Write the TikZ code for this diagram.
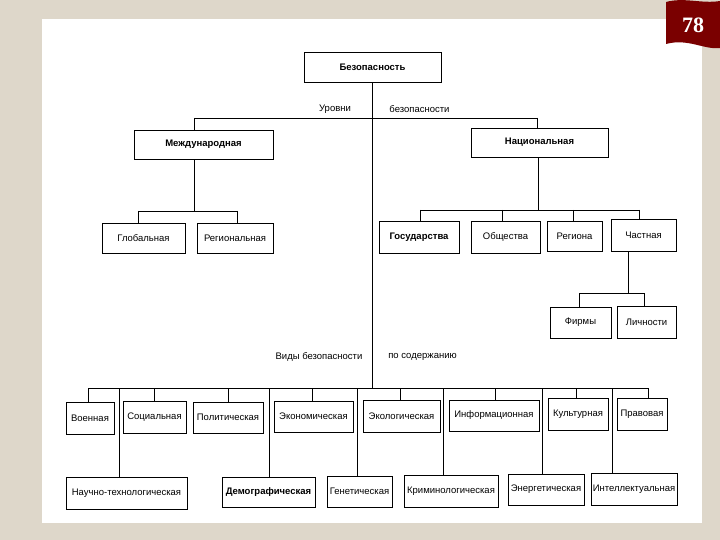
\documentclass[tikz,border=0pt]{standalone}
\usepackage{fontspec}
\setmainfont{Liberation Sans}
\newfontfamily\numfont{Liberation Serif}
\usetikzlibrary{shapes}
\definecolor{paper}{RGB}{222,215,202}
\definecolor{flagred}{RGB}{122,0,0}

\begin{document}
\begin{tikzpicture}[x=1pt,y=-1pt,
  box/.style={draw,rectangle,line width=0.7pt,inner sep=1pt,font=\fontsize{9.5}{11}\selectfont},
  lab/.style={inner sep=0pt,font=\fontsize{9.5}{11}\selectfont},
  link/.style={line width=0.8pt}]
\useasboundingbox (0,0) rectangle (720,540);
\fill[paper] (0,0) rectangle (720,540);
\fill[white] (42,19) rectangle (702,523);
\fill[flagred] (666,2) .. controls (684,-3) and (702,4) .. (720,1) -- (720,48) .. controls (704,50) and (688,38) .. (666,44) -- cycle;
\node[text=white,font=\numfont\bfseries\fontsize{22}{22}\selectfont] (num)at(693,25){78};

% levels
\node[box,minimum width=137pt,minimum height=30pt,font=\fontsize{9.5}{11}\selectfont\bfseries] (bez)at(372.5,67.5){Безопасность};
\node[box,minimum width=139pt,minimum height=29pt,font=\fontsize{9.5}{11}\selectfont\bfseries] (mezh)at(203.5,144.5){Международная};
\node[box,minimum width=137pt,minimum height=29pt,font=\fontsize{9.5}{11}\selectfont\bfseries] (natl)at(539.5,142.5){Национальная};
\node[box,minimum width=83pt,minimum height=30pt] (glob)at(143.5,238){Глобальная};
\node[box,minimum width=76pt,minimum height=30pt] (regn)at(235,238){Региональная};
\node[box,minimum width=80pt,minimum height=32pt,font=\fontsize{9.5}{11}\selectfont\bfseries] (gos)at(419,237){Государства};
\node[box,minimum width=69pt,minimum height=32pt] (obsh)at(505.5,237){Общества};
\node[box,minimum width=55pt,minimum height=30pt] (regi)at(574.5,236){Региона};
\node[box,minimum width=65pt,minimum height=32pt] (chast)at(643.5,235){Частная};
\node[box,minimum width=61pt,minimum height=31pt] (firm)at(580.5,322.5){Фирмы};
\node[box,minimum width=59pt,minimum height=32pt] (lich)at(646.5,322){Личности};

\node[lab] (urov)at(335,109){Уровни};
\node[lab] (urov2)at(419.5,109){безопасности};
\node[lab] (vid)at(319,357){Виды безопасности};
\node[lab] (vid2)at(422.5,357){по содержанию};

% kinds
\node[box,minimum width=48pt,minimum height=32pt] (voen)at(90,418){Военная};
\node[box,minimum width=63pt,minimum height=32pt] (soc)at(154.5,417){Социальная};
\node[box,minimum width=70pt,minimum height=31pt] (pol)at(228,417.5){Политическая};
\node[box,minimum width=79pt,minimum height=31pt] (econ)at(313.5,416.5){Экономическая};
\node[box,minimum width=77pt,minimum height=32pt] (ecol)at(401.5,416){Экологическая};
\node[box,minimum width=90pt,minimum height=31pt] (inf)at(494,415.5){Информационная};
\node[box,minimum width=60pt,minimum height=32pt] (cult)at(578,414){Культурная};
\node[box,minimum width=50pt,minimum height=32pt] (prav)at(642,414){Правовая};
\node[box,minimum width=121pt,minimum height=32pt] (nauch)at(126.5,493){Научно-технологическая};
\node[box,minimum width=93pt,minimum height=30pt,font=\fontsize{9.5}{11}\selectfont\bfseries] (demo)at(268.5,492){Демографическая};
\node[box,minimum width=65pt,minimum height=31pt] (gen)at(359.5,491.5){Генетическая};
\node[box,minimum width=94pt,minimum height=32pt] (krim)at(451,491){Криминологическая};
\node[box,minimum width=76pt,minimum height=31pt] (energ)at(546,489.5){Энергетическая};
\node[box,minimum width=86pt,minimum height=32pt] (intel)at(634,489){Интеллектуальная};

% buses
\coordinate (lvA)at(194,118); \coordinate (lvB)at(537,118);
\coordinate (mzA)at(138,211); \coordinate (mzB)at(237,211);
\coordinate (nA)at(420,210); \coordinate (nB)at(639,210);
\coordinate (chA)at(579,293); \coordinate (chB)at(644,293);
\coordinate (vb)at(88,388); \coordinate (ve)at(648,388);

\draw[link] (bez.south) -- (bez.south |- vb);
\draw[link] (lvA) -- (lvB);
\draw[link] (lvA) -- (lvA |- mezh.north);
\draw[link] (lvB) -- (lvB |- natl.north);

\draw[link] (lvA |- mezh.south) -- (lvA |- mzA);
\draw[link] (mzA) -- (mzB);
\draw[link] (mzA) -- (mzA |- glob.north);
\draw[link] (mzB) -- (mzB |- regn.north);

\draw[link] (natl.south -| 538,0) -- (nA -| 538,0);
\draw[link] (nA) -- (nB);
\foreach \x/\n in {420/gos,502/obsh,573/regi,639/chast}
  \draw[link] (nA -| \x,0) -- (\n.north -| \x,0);

\draw[link] (chast.south -| 628,0) -- (chA -| 628,0);
\draw[link] (chA) -- (chB);
\draw[link] (chA) -- (chA |- firm.north);
\draw[link] (chB) -- (chB |- lich.north);

\draw[link] (vb) -- (ve);
\foreach \x/\n in {88/voen,154/soc,228/pol,312/econ,400/ecol,495/inf,576/cult,648/prav}
  \draw[link] (vb -| \x,0) -- (\n.north -| \x,0);
\foreach \x/\n in {119/nauch,269/demo,357/gen,443/krim,542/energ,612/intel}
  \draw[link] (vb -| \x,0) -- (\n.north -| \x,0);
\end{tikzpicture}
\end{document}
